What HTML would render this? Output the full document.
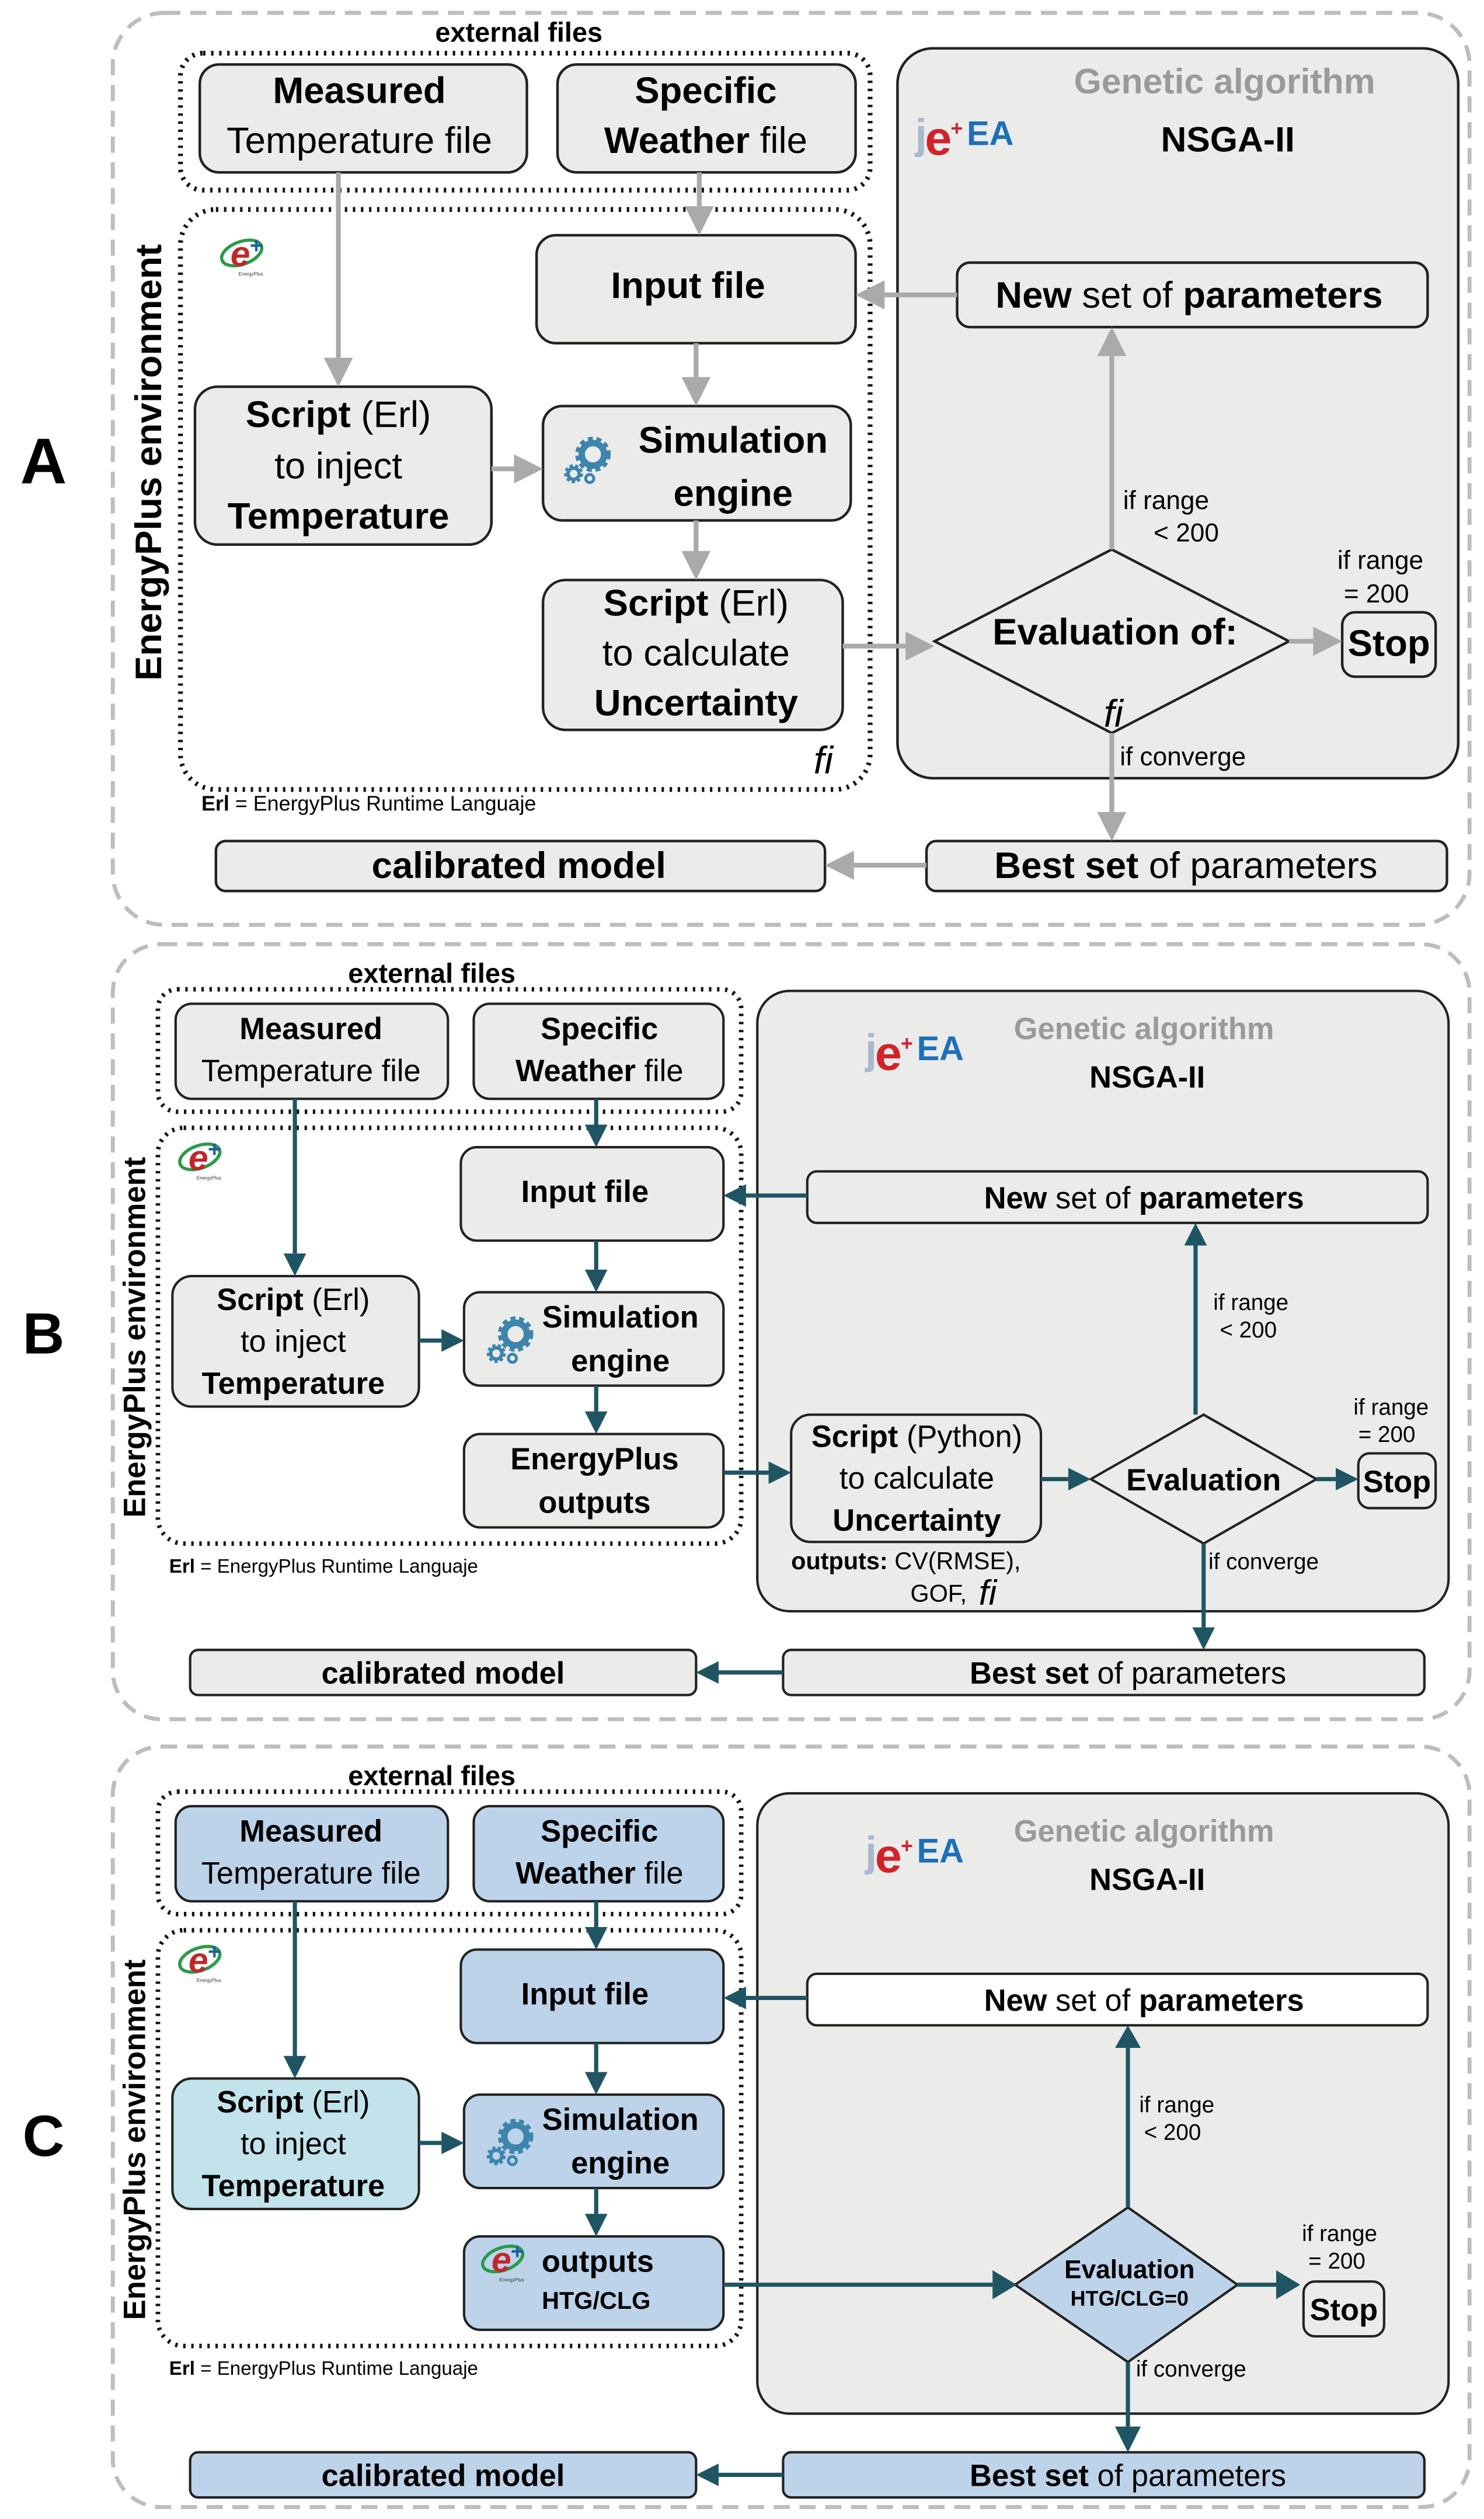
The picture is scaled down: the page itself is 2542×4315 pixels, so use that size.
<!DOCTYPE html>
<html><head><meta charset="utf-8"><style>
html,body{margin:0;padding:0;background:#fff;}
svg{display:block;}
text{font-family:"Liberation Sans",Arial,sans-serif;}
</style></head><body>
<svg width="2542" height="4315" viewBox="0 0 921 1563.4" preserveAspectRatio="none" xmlns="http://www.w3.org/2000/svg">
<defs>
<g id="gear">
<circle cx="0" cy="0" r="7" fill="none" stroke="#3d85ad" stroke-width="4"/>
<circle cx="0" cy="0" r="9.5" fill="none" stroke="#3d85ad" stroke-width="3" stroke-dasharray="3 2.2"/>
<circle cx="-12" cy="12" r="3.5" fill="none" stroke="#3d85ad" stroke-width="2.2"/>
<circle cx="-12" cy="12" r="5" fill="none" stroke="#3d85ad" stroke-width="1.8" stroke-dasharray="2 1.5"/>
<circle cx="-2" cy="15" r="2.5" fill="none" stroke="#3d85ad" stroke-width="1.8"/>
</g>
<g id="eplogo">
<ellipse cx="0" cy="0" rx="13" ry="7" fill="none" stroke="#2a9a4a" stroke-width="2" transform="rotate(-20)"/>
<text x="-7" y="8" font-size="22" font-weight="bold" font-style="italic" fill="#c0282d" font-family="Liberation Serif,serif">e</text>
<text x="5" y="0" font-size="14" font-weight="bold" fill="#1d5f9e">+</text>
<text x="-2" y="14" font-size="3" fill="#333">EnergyPlus</text>
</g>
<g id="jea">
<text x="0" y="0" font-size="26" font-weight="bold" fill="#a9b8cc" font-family="Liberation Serif,serif">j</text>
<text x="6" y="4" font-size="30" font-weight="bold" fill="#d2232a" font-family="Liberation Serif,serif">e</text>
<text x="22" y="-8" font-size="13" font-weight="bold" fill="#d2232a">+</text>
<text x="32" y="-2" font-size="21" font-weight="bold" fill="#1d6fb8">EA</text>
</g>
</defs>

<!-- ================= PANEL A ================= -->
<rect x="70" y="8" width="842" height="566" rx="32" fill="none" stroke="#bdbdbd" stroke-width="2.5" stroke-dasharray="10 6"/>
<text x="27" y="300" font-size="40" font-weight="bold" text-anchor="middle">A</text>
<text x="322" y="26" font-size="17" font-weight="bold" text-anchor="middle">external files</text>
<rect x="112" y="33" width="428" height="85" rx="14" fill="none" stroke="#111" stroke-width="3" stroke-dasharray="1.5 3.5"/>
<rect x="112" y="130" width="428" height="360" rx="22" fill="none" stroke="#111" stroke-width="3" stroke-dasharray="1.5 3.5"/>
<text transform="translate(100,287) rotate(-90)" font-size="23" font-weight="bold" text-anchor="middle">EnergyPlus environment</text>
<use href="#eplogo" x="150" y="157"/>

<g fill="#ebebea" stroke="#222" stroke-width="1.6">
<rect x="124" y="40" width="203" height="67" rx="12"/>
<rect x="346" y="40" width="185" height="67" rx="12"/>
<rect x="557" y="30" width="348" height="453" rx="22"/>
<rect x="333" y="146" width="198" height="67" rx="12"/>
<rect x="121" y="240" width="184" height="98" rx="14"/>
<rect x="337" y="252" width="191" height="71" rx="12"/>
<rect x="337" y="360" width="186" height="93" rx="14"/>
<rect x="594" y="163" width="292" height="40" rx="8"/>
<rect x="833" y="380" width="58" height="40" rx="8"/>
<rect x="575" y="522" width="323" height="31" rx="6"/>
<rect x="134" y="522" width="378" height="31" rx="6"/>
<polygon points="580,398 690,341 800,398 690,455"/>
</g>

<g font-size="23" text-anchor="middle">
<text x="223" y="64" font-weight="bold">Measured</text>
<text x="223" y="95">Temperature file</text>
<text x="438" y="64" font-weight="bold">Specific</text>
<text x="438" y="95"><tspan font-weight="bold">Weather</tspan> file</text>
<text x="427" y="185" font-weight="bold">Input file</text>
<text x="210" y="265"><tspan font-weight="bold">Script</tspan> (Erl)</text>
<text x="210" y="297">to inject</text>
<text x="210" y="328" font-weight="bold">Temperature</text>
<text x="455" y="281" font-weight="bold">Simulation</text>
<text x="455" y="314" font-weight="bold">engine</text>
<text x="432" y="382"><tspan font-weight="bold">Script</tspan> (Erl)</text>
<text x="432" y="413">to calculate</text>
<text x="432" y="444" font-weight="bold">Uncertainty</text>
<text x="738" y="191"><tspan font-weight="bold">New</tspan> set of <tspan font-weight="bold">parameters</tspan></text>
<text x="692" y="400" font-weight="bold">Evaluation of:</text>
<text x="862" y="407" font-weight="bold">Stop</text>
<text x="736" y="545"><tspan font-weight="bold">Best set</tspan> of parameters</text>
<text x="322" y="545" font-weight="bold">calibrated model</text>
</g>
<text x="760" y="58" font-size="22" font-weight="bold" fill="#9a9a9a" text-anchor="middle">Genetic algorithm</text>
<text x="762" y="94" font-size="22" font-weight="bold" text-anchor="middle">NSGA-II</text>
<use href="#jea" x="568" y="92"/>
<use href="#gear" x="368" y="282"/>
<text x="511" y="480" font-size="24" font-style="italic" font-family="Liberation Serif,serif" text-anchor="middle">fi</text>
<text x="691" y="451" font-size="24" font-style="italic" font-family="Liberation Serif,serif" text-anchor="middle">fi</text>
<text x="125" y="503" font-size="13"><tspan font-weight="bold">Erl</tspan> = EnergyPlus Runtime Languaje</text>
<g font-size="16">
<text x="697" y="316">if range</text>
<text x="716" y="336">&lt; 200</text>
<text x="830" y="353">if range</text>
<text x="834" y="374">= 200</text>
<text x="695" y="475">if converge</text>
</g>

<g stroke="#aaa" stroke-width="3" fill="none">
<line x1="210" y1="107" x2="210" y2="222"/>
<line x1="434" y1="107" x2="434" y2="128"/>
<line x1="432" y1="213" x2="432" y2="234"/>
<line x1="305" y1="291" x2="319" y2="291"/>
<line x1="432" y1="323" x2="432" y2="342"/>
<line x1="523" y1="401" x2="562" y2="401"/>
<line x1="594" y1="183" x2="549" y2="183"/>
<line x1="690" y1="341" x2="690" y2="221"/>
<line x1="800" y1="398" x2="815" y2="398"/>
<line x1="690" y1="455" x2="690" y2="504"/>
<line x1="575" y1="537" x2="530" y2="537"/>
</g>
<g fill="#aaa">
<polygon points="201,222 219,222 210,240"/>
<polygon points="425,128 443,128 434,146"/>
<polygon points="423,234 441,234 432,252"/>
<polygon points="319,282 319,300 337,291"/>
<polygon points="423,342 441,342 432,360"/>
<polygon points="562,392 562,410 580,401"/>
<polygon points="549,174 549,192 531,183"/>
<polygon points="681,221 699,221 690,203"/>
<polygon points="815,389 815,407 833,398"/>
<polygon points="681,504 699,504 690,522"/>
<polygon points="530,528 530,546 512,537"/>
</g>

<!-- ================= PANEL B ================= -->
<rect x="70" y="586" width="842" height="481" rx="30" fill="none" stroke="#bdbdbd" stroke-width="2.5" stroke-dasharray="10 6"/>
<text x="27" y="840" font-size="36" font-weight="bold" text-anchor="middle">B</text>
<text x="268" y="610" font-size="17" font-weight="bold" text-anchor="middle">external files</text>
<rect x="98" y="614" width="362" height="76" rx="12" fill="none" stroke="#111" stroke-width="2.8" stroke-dasharray="1.5 3.5"/>
<rect x="98" y="700" width="362" height="258" rx="16" fill="none" stroke="#111" stroke-width="2.8" stroke-dasharray="1.5 3.5"/>
<text transform="translate(90,830) rotate(-90)" font-size="19" font-weight="bold" text-anchor="middle">EnergyPlus environment</text>
<use href="#eplogo" x="124" y="718" transform="translate(0,0)"/>

<g fill="#ebebea" stroke="#222" stroke-width="1.5">
<rect x="109" y="623" width="169" height="59" rx="10"/>
<rect x="294" y="623" width="155" height="59" rx="10"/>
<rect x="470" y="615" width="429" height="385" rx="20"/>
<rect x="286" y="712" width="163" height="58" rx="10"/>
<rect x="107" y="792" width="153" height="81" rx="12"/>
<rect x="288" y="802" width="161" height="58" rx="10"/>
<rect x="288" y="890" width="161" height="58" rx="10"/>
<rect x="501" y="727" width="385" height="32" rx="6"/>
<rect x="491" y="878" width="155" height="79" rx="12"/>
<rect x="843" y="902" width="48" height="34" rx="7"/>
<rect x="486" y="1024" width="398" height="28" rx="5"/>
<rect x="118" y="1024" width="314" height="28" rx="5"/>
<polygon points="677,918 747,878 817,918 747,958"/>
</g>
<g font-size="19" text-anchor="middle">
<text x="193" y="645" font-weight="bold">Measured</text>
<text x="193" y="671">Temperature file</text>
<text x="372" y="645" font-weight="bold">Specific</text>
<text x="372" y="671"><tspan font-weight="bold">Weather</tspan> file</text>
<text x="363" y="746" font-weight="bold">Input file</text>
<text x="182" y="813"><tspan font-weight="bold">Script</tspan> (Erl)</text>
<text x="182" y="839">to inject</text>
<text x="182" y="865" font-weight="bold">Temperature</text>
<text x="385" y="824" font-weight="bold">Simulation</text>
<text x="385" y="851" font-weight="bold">engine</text>
<text x="369" y="912" font-weight="bold">EnergyPlus</text>
<text x="369" y="939" font-weight="bold">outputs</text>
<text x="710" y="750"><tspan font-weight="bold">New</tspan> set of <tspan font-weight="bold">parameters</tspan></text>
<text x="569" y="898"><tspan font-weight="bold">Script</tspan> (Python)</text>
<text x="569" y="924">to calculate</text>
<text x="569" y="950" font-weight="bold">Uncertainty</text>
<text x="747" y="925" font-weight="bold">Evaluation</text>
<text x="867" y="926" font-weight="bold">Stop</text>
<text x="700" y="1045"><tspan font-weight="bold">Best set</tspan> of parameters</text>
<text x="275" y="1045" font-weight="bold">calibrated model</text>
</g>
<text x="710" y="645" font-size="19" font-weight="bold" fill="#9a9a9a" text-anchor="middle">Genetic algorithm</text>
<text x="712" y="675" font-size="19" font-weight="bold" text-anchor="middle">NSGA-II</text>
<use href="#jea" x="537" y="660" />
<use href="#gear" x="320" y="828"/>
<text x="105" y="976" font-size="12"><tspan font-weight="bold">Erl</tspan> = EnergyPlus Runtime Languaje</text>
<text x="491" y="974" font-size="15"><tspan font-weight="bold">outputs:</tspan> CV(RMSE),</text>
<text x="565" y="994" font-size="15">GOF,</text>
<text x="613" y="996" font-size="22" font-style="italic" font-family="Liberation Serif,serif" text-anchor="middle">fi</text>
<g font-size="14">
<text x="753" y="813">if range</text>
<text x="757" y="830">&lt; 200</text>
<text x="840" y="878">if range</text>
<text x="843" y="895">= 200</text>
<text x="750" y="974">if converge</text>
</g>
<g stroke="#1f5563" stroke-width="2.6" fill="none">
<line x1="183" y1="682" x2="183" y2="778"/>
<line x1="370" y1="682" x2="370" y2="698"/>
<line x1="370" y1="770" x2="370" y2="788"/>
<line x1="260" y1="832" x2="274" y2="832"/>
<line x1="370" y1="860" x2="370" y2="876"/>
<line x1="449" y1="914" x2="477" y2="914"/>
<line x1="646" y1="918" x2="663" y2="918"/>
<line x1="742" y1="878" x2="742" y2="773"/>
<line x1="817" y1="918" x2="829" y2="918"/>
<line x1="747" y1="958" x2="747" y2="1010"/>
<line x1="501" y1="742" x2="463" y2="742"/>
<line x1="486" y1="1038" x2="446" y2="1038"/>
</g>
<g fill="#1f5563">
<polygon points="176,778 190,778 183,792"/>
<polygon points="363,698 377,698 370,712"/>
<polygon points="363,788 377,788 370,802"/>
<polygon points="274,825 274,839 288,832"/>
<polygon points="363,876 377,876 370,890"/>
<polygon points="477,907 477,921 491,914"/>
<polygon points="663,911 663,925 677,918"/>
<polygon points="735,773 749,773 742,759"/>
<polygon points="829,911 829,925 843,918"/>
<polygon points="740,1010 754,1010 747,1024"/>
<polygon points="463,735 463,749 449,742"/>
<polygon points="446,1031 446,1045 432,1038"/>
</g>

<!-- ================= PANEL C ================= -->
<rect x="70" y="1084" width="842" height="472" rx="30" fill="none" stroke="#bdbdbd" stroke-width="2.5" stroke-dasharray="10 6"/>
<text x="27" y="1338" font-size="36" font-weight="bold" text-anchor="middle">C</text>
<text x="268" y="1108" font-size="17" font-weight="bold" text-anchor="middle">external files</text>
<rect x="98" y="1112" width="362" height="76" rx="12" fill="none" stroke="#111" stroke-width="2.8" stroke-dasharray="1.5 3.5"/>
<rect x="98" y="1198" width="362" height="258" rx="16" fill="none" stroke="#111" stroke-width="2.8" stroke-dasharray="1.5 3.5"/>
<text transform="translate(90,1328) rotate(-90)" font-size="19" font-weight="bold" text-anchor="middle">EnergyPlus environment</text>
<use href="#eplogo" x="124" y="1216"/>

<g stroke="#222" stroke-width="1.5">
<rect x="470" y="1113" width="429" height="385" rx="20" fill="#ebebea"/>
<rect x="109" y="1121" width="169" height="59" rx="10" fill="#bcd3ea"/>
<rect x="294" y="1121" width="155" height="59" rx="10" fill="#bcd3ea"/>
<rect x="286" y="1210" width="163" height="58" rx="10" fill="#bcd3ea"/>
<rect x="107" y="1290" width="153" height="81" rx="12" fill="#c2e3ec"/>
<rect x="288" y="1300" width="161" height="58" rx="10" fill="#bcd3ea"/>
<rect x="288" y="1388" width="161" height="58" rx="10" fill="#bcd3ea"/>
<rect x="501" y="1225" width="385" height="32" rx="6" fill="#fff"/>
<rect x="809" y="1416" width="50" height="34" rx="7" fill="#ebebea"/>
<rect x="486" y="1522" width="398" height="28" rx="5" fill="#bcd3ea"/>
<rect x="118" y="1522" width="314" height="28" rx="5" fill="#bcd3ea"/>
<polygon points="630,1418 700,1370 768,1418 700,1466" fill="#bcd3ea"/>
</g>
<g font-size="19" text-anchor="middle">
<text x="193" y="1143" font-weight="bold">Measured</text>
<text x="193" y="1169">Temperature file</text>
<text x="372" y="1143" font-weight="bold">Specific</text>
<text x="372" y="1169"><tspan font-weight="bold">Weather</tspan> file</text>
<text x="363" y="1244" font-weight="bold">Input file</text>
<text x="182" y="1311"><tspan font-weight="bold">Script</tspan> (Erl)</text>
<text x="182" y="1337">to inject</text>
<text x="182" y="1363" font-weight="bold">Temperature</text>
<text x="385" y="1322" font-weight="bold">Simulation</text>
<text x="385" y="1349" font-weight="bold">engine</text>
<text x="371" y="1410" font-weight="bold">outputs</text>
<text x="710" y="1248"><tspan font-weight="bold">New</tspan> set of <tspan font-weight="bold">parameters</tspan></text>
<text x="834" y="1440" font-weight="bold">Stop</text>
<text x="700" y="1543"><tspan font-weight="bold">Best set</tspan> of parameters</text>
<text x="275" y="1543" font-weight="bold">calibrated model</text>
</g>
<text x="370" y="1433" font-size="15" font-weight="bold" text-anchor="middle">HTG/CLG</text>
<text x="701" y="1414" font-size="16" font-weight="bold" text-anchor="middle">Evaluation</text>
<text x="701" y="1431" font-size="13" font-weight="bold" text-anchor="middle">HTG/CLG=0</text>
<text x="710" y="1143" font-size="19" font-weight="bold" fill="#9a9a9a" text-anchor="middle">Genetic algorithm</text>
<text x="712" y="1173" font-size="19" font-weight="bold" text-anchor="middle">NSGA-II</text>
<use href="#jea" x="537" y="1158"/>
<use href="#gear" x="320" y="1326"/>
<use href="#eplogo" x="312" y="1402"/>
<text x="105" y="1474" font-size="12"><tspan font-weight="bold">Erl</tspan> = EnergyPlus Runtime Languaje</text>
<g font-size="14">
<text x="707" y="1311">if range</text>
<text x="710" y="1328">&lt; 200</text>
<text x="808" y="1391">if range</text>
<text x="812" y="1408">= 200</text>
<text x="705" y="1475">if converge</text>
</g>
<g stroke="#1f5563" stroke-width="2.6" fill="none">
<line x1="183" y1="1180" x2="183" y2="1276"/>
<line x1="370" y1="1180" x2="370" y2="1196"/>
<line x1="370" y1="1268" x2="370" y2="1286"/>
<line x1="260" y1="1330" x2="274" y2="1330"/>
<line x1="370" y1="1358" x2="370" y2="1374"/>
<line x1="449" y1="1418" x2="616" y2="1418"/>
<line x1="700" y1="1370" x2="700" y2="1271"/>
<line x1="768" y1="1418" x2="792" y2="1418"/>
<line x1="700" y1="1466" x2="700" y2="1506"/>
<line x1="501" y1="1240" x2="463" y2="1240"/>
<line x1="486" y1="1536" x2="446" y2="1536"/>
</g>
<g fill="#1f5563">
<polygon points="176,1276 190,1276 183,1290"/>
<polygon points="363,1196 377,1196 370,1210"/>
<polygon points="363,1286 377,1286 370,1300"/>
<polygon points="274,1323 274,1337 288,1330"/>
<polygon points="363,1374 377,1374 370,1388"/>
<polygon points="616,1409 616,1427 631,1418"/>
<polygon points="692,1271 708,1271 700,1257"/>
<polygon points="792,1409 792,1427 807,1418"/>
<polygon points="692,1506 708,1506 700,1522"/>
<polygon points="463,1233 463,1247 449,1240"/>
<polygon points="446,1529 446,1543 432,1536"/>
</g>
</svg>
</body></html>
